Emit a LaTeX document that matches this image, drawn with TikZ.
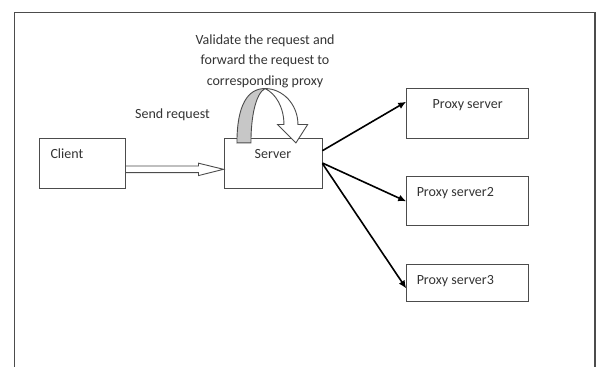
\documentclass[tikz,border=0pt]{standalone}
\usepackage{fontspec}
\setmainfont{Carlito}
\usepackage{tikz}
\usetikzlibrary{arrows.meta, calc, positioning}

\begin{document}
\begin{tikzpicture}[x=1pt, y=1pt,
    box/.style={draw=black!70, line width=0.9pt, inner sep=0pt, minimum width=122pt},
    lbl/.style={text=black!80, font=\fontsize{14}{17}\selectfont, inner sep=0pt},
    send/.style={black, line width=1.6pt, -{Latex[length=8pt, width=7pt]}},
    hollow/.style={draw=black!70, line width=0.9pt, fill=white, line join=miter}]
    \useasboundingbox (0,0) rectangle (603,367);

    % outer frame, open at the bottom
    \draw[black!70, line width=1.6pt] (14.6,0) -- (14.6,354.3) -- (595,354.3) -- (595,0);

    % boxes
    \node[box, minimum width=86.5pt, minimum height=50pt] (client) at (82.3,204) {};
    \node[box, minimum width=98pt, minimum height=50pt, right=97.5pt of client] (server) {};
    \node[box, minimum height=50pt] (proxyA) at (467.7,254) {};
    \node[box, minimum height=49pt, below=38pt of proxyA] (proxyB) {};
    \node[box, minimum height=37pt, below=38pt of proxyB] (proxyC) {};

    % texts in the boxes
    \node[lbl, anchor=base west] (clientlbl) at ([xshift=11.7pt, yshift=-21.3pt]client.north west) {Client};
    \node[lbl, anchor=base] (serverlbl) at ([yshift=-21.3pt]server.north) {Server};
    \node[lbl, anchor=base] (proxyAlbl) at ([yshift=-21.3pt]proxyA.north) {Proxy server};
    \node[lbl, anchor=base west] (proxyBlbl) at ([xshift=10.3pt, yshift=-20pt]proxyB.north west) {Proxy server2};
    \node[lbl, anchor=base west] (proxyClbl) at ([xshift=10.3pt, yshift=-19.7pt]proxyC.north west) {Proxy server3};

    % free texts
    \node[lbl, anchor=base west] (sendlbl) at (135,248.7) {Send request};
    \node[lbl, align=center, font=\fontsize{14}{20.5}\selectfont] (validlbl) at (265,306)
        {Validate the request and\\forward the request to\\corresponding proxy};

    % hollow arrow client -> server
    \draw[hollow] ([yshift=-3pt]client.east) -- ([xshift=-25pt, yshift=-3pt]server.west)
        -- ([xshift=-25pt, yshift=-0.2pt]server.west) -- ([yshift=-6.3pt]server.west)
        -- ([xshift=-25pt, yshift=-12.6pt]server.west) -- ([xshift=-25pt, yshift=-9.6pt]server.west)
        -- ([yshift=-9.6pt]client.east);

    % curved arrow on top of the server
    \begin{scope}[shift={(server.north)}]
        \draw[hollow, fill=black!22] (-36,-5.3) .. controls (-36,33) and (-25,49) .. (-8,49)
            .. controls (-17,44) and (-22,22) .. (-22,-5.3) -- cycle;
        \draw[hollow] (-8,49) .. controls (10,49) and (25,33) .. (25,13) -- (34.7,13) -- (23,-5.3)
            -- (4.7,13) -- (11,13) .. controls (11,30) and (3,44) .. (-8,49) -- cycle;
    \end{scope}

    % server -> proxies
    \draw[send] ([yshift=12.3pt]server.east) -- ([yshift=11.3pt]proxyA.west);
    \draw[send] (server.east) -- (proxyB.west);
    \draw[send] ([yshift=-0.5pt]server.east) -- ([yshift=-5.2pt]proxyC.west);
\end{tikzpicture}
\end{document}
